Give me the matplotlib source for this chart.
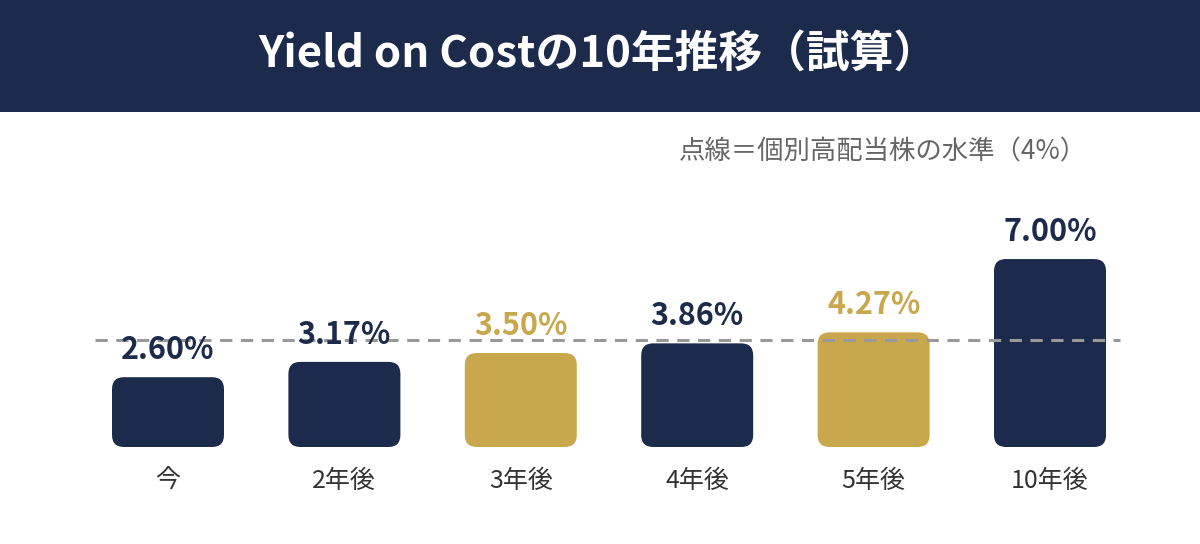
import matplotlib
matplotlib.use("Agg")
import matplotlib.pyplot as plt
from matplotlib.patches import FancyBboxPatch, Rectangle

plt.rcParams['font.family'] = ['Noto Sans CJK JP', 'DejaVu Sans']

categories = ["今", "2年後", "3年後", "4年後", "5年後", "10年後"]
values = [2.60, 3.17, 3.50, 3.86, 4.27, 7.00]
highlight = [False, False, True, False, True, False]
value_labels = ["2.60%", "3.17%", "3.50%", "3.86%", "4.27%", "7.00%"]
reference_level = 4.0
title = "Yield on Costの10年推移（試算）"
note = "点線＝個別高配当株の水準（4%）"

NAVY = "#1C2A4B"
GOLD = "#C9A74C"

W, H = 1200, 544
fig = plt.figure(figsize=(W / 100, H / 100), dpi=100)
fig.patch.set_facecolor("white")

# header banner
fig.patches.append(Rectangle((0, 1 - 112 / H), 1, 112 / H, transform=fig.transFigure,
                             facecolor=NAVY, edgecolor="none", zorder=0))
fig.text(598 / W, 1 - 55 / H, title, color="white", fontsize=31.5, fontweight="bold",
         ha="center", va="center")
fig.text(1087 / W, 1 - 152 / H, note, color="#666666", fontsize=19,
         ha="right", va="center")

# axes: x center 0 at 168px, spacing 176.4px; y: 0 at 447px, 26.85 px per %
px_per_x = 176.4
px_per_y = 26.85
x_left_px = 168 - 0.5 * px_per_x
x_right_px = 168 + 5.5 * px_per_x
ytop = 9.0
ax_bottom_px = 447
ax = fig.add_axes([x_left_px / W, (H - ax_bottom_px) / H,
                   (x_right_px - x_left_px) / W, ytop * px_per_y / H])
ax.set_xlim(-0.5, 5.5)
ax.set_ylim(0, ytop)
ax.axis("off")

bw = 112 / px_per_x
r_px = 12
r_x = r_px / px_per_x
aspect = (r_px / px_per_y) / r_x

for i, (v, hl, lab) in enumerate(zip(values, highlight, value_labels)):
    color = GOLD if hl else NAVY
    p = FancyBboxPatch((i - bw / 2, 0), bw, v,
                       boxstyle=f"round,pad=0,rounding_size={r_x}",
                       mutation_aspect=aspect, facecolor=color, edgecolor="none",
                       zorder=2)
    ax.add_patch(p)
    ax.annotate(lab, (i, v), xytext=(0, 8), textcoords="offset points",
                ha="center", va="bottom", fontsize=22, fontweight="bold",
                color=color, zorder=4, annotation_clip=False)
    ax.annotate(categories[i], (i, 0), xytext=(0, -34), textcoords="offset pixels",
                ha="center", va="center", fontsize=18, color="#333333",
                annotation_clip=False)

x0 = -0.5 + (95 - x_left_px) / px_per_x
x1 = -0.5 + (1120 - x_left_px) / px_per_x
ax.hlines(reference_level, x0, x1, colors="#999999", linestyles=(0, (4, 2.8)),
          linewidth=2.2, zorder=3)

fig.savefig("out.png", dpi=100, facecolor="white")
